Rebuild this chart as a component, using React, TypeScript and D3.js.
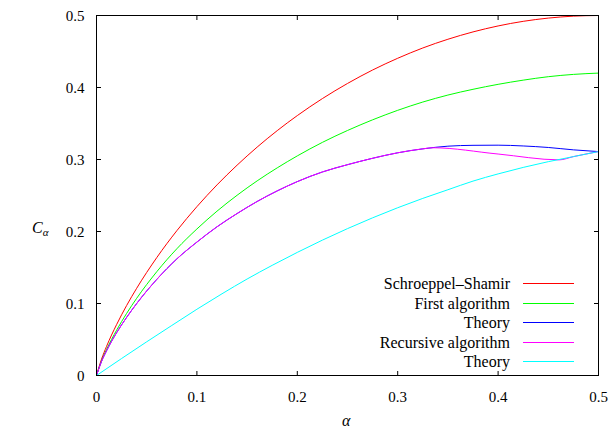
import React from "react";
import * as d3 from "d3";

const alphaGrid = [0, 0.005, 0.01, 0.02, 0.03, 0.04, 0.06, 0.08, 0.1, 0.12, 0.14, 0.16, 0.18, 0.2, 0.225, 0.25, 0.275, 0.3, 0.325, 0.35, 0.375, 0.4, 0.425, 0.45, 0.475, 0.5];
const schroeppelShamir = [0, 0.0227, 0.0404, 0.0707, 0.0972, 0.1211, 0.1637, 0.2011, 0.2345, 0.2647, 0.2921, 0.3172, 0.3401, 0.361, 0.3846, 0.4056, 0.4243, 0.4406, 0.4549, 0.467, 0.4772, 0.4855, 0.4919, 0.4964, 0.4991, 0.5];
const firstAlgorithm = [0, 0.0204, 0.0362, 0.0629, 0.0862, 0.1072, 0.1441, 0.176, 0.2035, 0.2282, 0.2503, 0.2703, 0.2884, 0.305, 0.3238, 0.3403, 0.3551, 0.3683, 0.3798, 0.3895, 0.3975, 0.4044, 0.4102, 0.415, 0.4182, 0.42];
const theory1 = [0, 0.0195, 0.0343, 0.0594, 0.0807, 0.0999, 0.1334, 0.1619, 0.1853, 0.2065, 0.2249, 0.2417, 0.2564, 0.2693, 0.2827, 0.2928, 0.3017, 0.3093, 0.3148, 0.3185, 0.3197, 0.3199, 0.3188, 0.3167, 0.3134, 0.311];

const recursiveAlpha = [0, 0.005, 0.01, 0.02, 0.03, 0.04, 0.06, 0.08, 0.1, 0.12, 0.14, 0.16, 0.18, 0.2, 0.225, 0.25, 0.275, 0.3, 0.325, 0.335, 0.4, 0.461, 0.475, 0.5];
const recursiveAlgorithm = [0, 0.0195, 0.0343, 0.0594, 0.0807, 0.0999, 0.1334, 0.1619, 0.1853, 0.2065, 0.2249, 0.2417, 0.2564, 0.2693, 0.2827, 0.2928, 0.3017, 0.3093, 0.3148, 0.3163, 0.3076, 0.2995, 0.304, 0.311];

const theory2Alpha = [0, 0.025, 0.05, 0.075, 0.1, 0.125, 0.15, 0.175, 0.2, 0.225, 0.25, 0.275, 0.3, 0.325, 0.35, 0.375, 0.4, 0.425, 0.45, 0.475, 0.5];
const theory2 = [0, 0.0236, 0.0468, 0.0695, 0.092, 0.1135, 0.134, 0.153, 0.171, 0.188, 0.204, 0.219, 0.233, 0.246, 0.258, 0.27, 0.28, 0.289, 0.297, 0.304, 0.311];

const ticks = [0, 0.1, 0.2, 0.3, 0.4, 0.5];
const tickLabels = ["0", "0.1", "0.2", "0.3", "0.4", "0.5"];

const seriesNames = ["Schroeppel\u2013Shamir", "First algorithm", "Theory", "Recursive algorithm", "Theory"];
const seriesColors = ["#ff0000", "#00ff00", "#0000ff", "#ff00ff", "#00ffff"];

const W = 611, H = 430;
const L = 96.5, R = 598.5, T = 15.5, B = 375.5;
const FONT = "'Liberation Serif', 'Liberation Sans', serif";
const tickStyle: React.CSSProperties = { fontFamily: FONT, fontSize: "15px" };
const legendStyle: React.CSSProperties = { fontFamily: FONT, fontSize: "16px" };

export default function App() {
  const x = d3.scaleLinear().domain([0, 0.5]).range([L, R]);
  const y = d3.scaleLinear().domain([0, 0.5]).range([B, T]);
  const line = (xs: number[], ys: number[]) =>
    d3.line<number>().x((_, i) => x(xs[i])).y((v) => y(v)).curve(d3.curveMonotoneX)(ys) || "";

  const series = [
    { xs: alphaGrid, ys: schroeppelShamir },
    { xs: alphaGrid, ys: firstAlgorithm },
    { xs: alphaGrid, ys: theory1 },
    { xs: recursiveAlpha, ys: recursiveAlgorithm },
    { xs: theory2Alpha, ys: theory2 },
  ];
  const tl = 4.5;
  return (
    <svg width={W} height={H} style={{ position: "absolute", left: 0, top: 0, background: "#fff" }}>
      <rect x={0} y={0} width={W} height={H} fill="#fff" />
      <defs>
        <clipPath id="plot">
          <rect x={L} y={T - 1} width={R - L} height={B - T + 1} />
        </clipPath>
      </defs>
      {ticks.map((t, i) => (
        <g key={"t" + i} stroke="#000" strokeWidth={1}>
          <line x1={L} x2={L + tl} y1={y(t)} y2={y(t)} />
          <line x1={R} x2={R - tl} y1={y(t)} y2={y(t)} />
          <line x1={x(t)} x2={x(t)} y1={B} y2={B - tl} />
          <line x1={x(t)} x2={x(t)} y1={T} y2={T + tl} />
        </g>
      ))}
      {ticks.map((t, i) => (
        <text key={"yl" + i} x={L - 12} y={y(t) + 5.5} style={tickStyle} textAnchor="end" fill="#000">
          {tickLabels[i]}
        </text>
      ))}
      {ticks.map((t, i) => (
        <text key={"xl" + i} x={x(t)} y={B + 26} style={tickStyle} textAnchor="middle" fill="#000">
          {tickLabels[i]}
        </text>
      ))}
      <g clipPath="url(#plot)" fill="none" strokeWidth={1}>
        {series.map((s, i) => (
          <path key={"s" + i} d={line(s.xs, s.ys)} stroke={seriesColors[i]} />
        ))}
      </g>
      <rect x={L} y={T} width={R - L} height={B - T} fill="none" stroke="#000" strokeWidth={1} />
      {seriesNames.map((n, i) => {
        const ly = Math.round(283 + i * 19.5) + 0.5;
        return (
          <g key={"lg" + i}>
            <text x={510} y={ly + 5.5} style={legendStyle} textAnchor="end" fill="#000">{n}</text>
            <line x1={523} x2={574} y1={ly} y2={ly} stroke={seriesColors[i]} strokeWidth={1} />
          </g>
        );
      })}
      <text x={32} y={233} style={{ ...tickStyle, fontSize: "16px", fontStyle: "italic" }} fill="#000">
        C<tspan style={{ fontSize: "11px" }} dy={3}>α</tspan>
      </text>
      <text x={342} y={426} style={{ ...tickStyle, fontSize: "16px", fontStyle: "italic" }} fill="#000">α</text>
    </svg>
  );
}
